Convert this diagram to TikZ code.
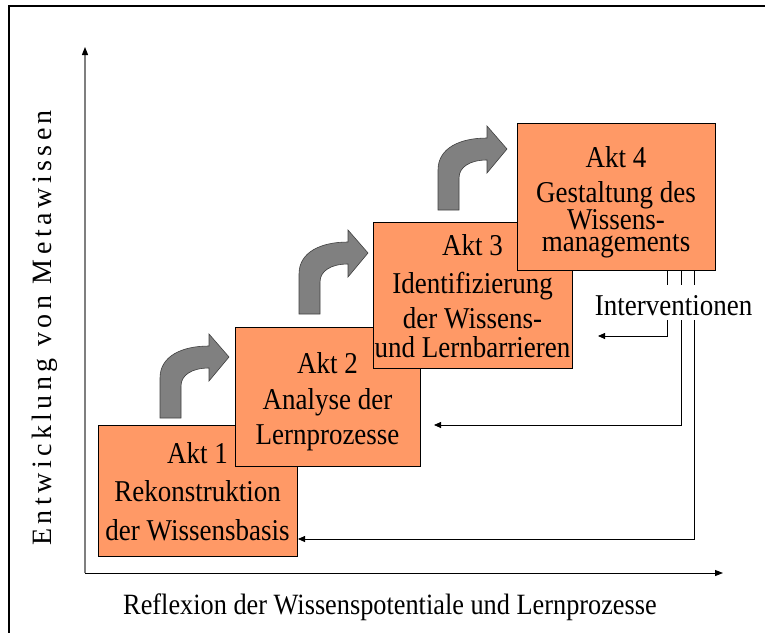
\documentclass[tikz,border=0pt]{standalone}
\usepackage{fontspec}
\usepackage{graphicx}
\setmainfont{Liberation Serif}
\usetikzlibrary{arrows.meta,calc}
\definecolor{aktorange}{HTML}{FF9966}
\definecolor{turngray}{HTML}{808080}
\definecolor{axisgray}{HTML}{7F7F7F}

\begin{document}
\begin{tikzpicture}[x=1pt,y=-1pt,
  aktbox/.style={draw=black,line width=0.9pt,fill=aktorange,rectangle,inner sep=0pt,anchor=north west},
  tall/.style={yscale=1.12,transform shape},
  akttext/.style={anchor=base,inner sep=0pt,font=\fontsize{27}{30}\selectfont,tall},
  label/.style={inner sep=0pt,font=\fontsize{27}{30}\selectfont},
  turn/.style={fill=turngray,draw=black!75,line width=0.6pt},
  feedback/.style={draw=black,line width=0.8pt,-{Triangle[length=7pt,width=6pt]}},
  axistip/.style={-{Triangle[length=8pt,width=6pt,color=black]}},
  turnarrow/.pic={
    \path[turn] (0,0) -- (21,0) -- (21,-32)
      .. controls (21,-43) and (32,-50) .. (49,-50)
      -- (49,-37) -- (69,-61) -- (49,-84) -- (49,-72)
      .. controls (22,-72) and (0,-62) .. (0,-40) -- cycle;
  },
]
\useasboundingbox (0,0) rectangle (765,632);

% outer frame
\draw[line width=2pt] (9,6) rectangle (775,645);

% axes
\coordinate (origin) at (85,573);
\coordinate (ytip) at (85,47);
\coordinate (xtip) at (723,573);
\draw[axistip,draw=axisgray,line width=1.2pt] (origin) -- (ytip);
\draw[axistip,line width=1pt] (origin) -- (xtip);

\node[label,anchor=base,tall,font=\fontsize{26.3}{30}\selectfont] (xlabel) at (390,614) {Reflexion der Wissenspotentiale und Lernprozesse};
\node[label,anchor=base,rotate=90,font=\fontsize{28}{30}\selectfont\addfontfeature{LetterSpace=16}] (ylabel) at (51,328) {Entwicklung von Metawissen};

% the four acts as overlapping steps
\node[aktbox,minimum width=199pt,minimum height=131pt] (akt1) at (98,425) {};
\node[akttext] (akt1text) at (197.5,463) {\begin{tabular}[t]{@{}c@{}}Akt 1\\[4.8pt]Rekonstruktion\\[4.8pt]der Wissensbasis\end{tabular}};

\node[aktbox,minimum width=185pt,minimum height=139pt] (akt2) at (235,327) {};
\node[akttext] (akt2text) at (327.5,373) {\begin{tabular}[t]{@{}c@{}}Akt 2\\[3pt]Analyse der\\[1.2pt]Lernprozesse\end{tabular}};

\node[aktbox,minimum width=199pt,minimum height=146pt] (akt3) at (373,222) {};
\node[akttext] (akt3text) at (472.5,255) {\begin{tabular}[t]{@{}c@{}}Akt 3\\[4.8pt]Identifizierung\\[0.4pt]der Wissens-\\[-4.1pt]und Lernbarrieren\end{tabular}};

\node[aktbox,minimum width=198pt,minimum height=147pt] (akt4) at (517,123) {};
\node[akttext] (akt4text) at (616,167) {\begin{tabular}[t]{@{}c@{}}Akt 4\\[2.1pt]Gestaltung des\\[-5.9pt]Wissens-\\[-10.4pt]managements\end{tabular}};

% turning arrows between the steps
\pic at (160,418) {turnarrow};
\pic at (299,314) {turnarrow};
\pic at (438,210) {turnarrow};

% interventions flowing back from act 4
\coordinate (back3) at (598,336);
\coordinate (back2) at (434,425);
\coordinate (back1) at (298,539);
\draw[feedback] ($(akt4.south west)+(150,0)$) |- (back3);
\draw[feedback] ($(akt4.south west)+(164,0)$) |- (back2);
\draw[feedback] ($(akt4.south west)+(177,0)$) |- (back1);

\node[label,anchor=base,tall,fill=white,text height=22pt,text depth=0pt,inner ysep=4.5pt,inner xsep=1pt] (interv) at (673.5,315) {Interventionen};
\end{tikzpicture}
\end{document}
